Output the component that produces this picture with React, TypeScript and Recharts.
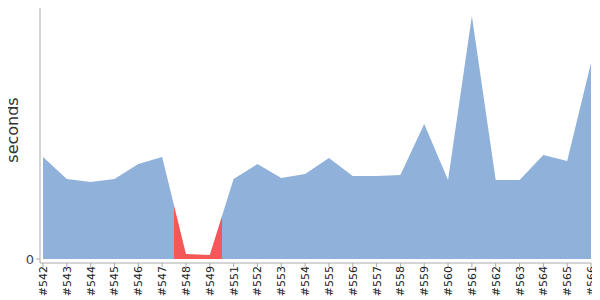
import {FC} from "react";
import {AreaChart, Area, XAxis, YAxis} from 'recharts';

const builds: string[] = [
    '#542', '#543', '#544', '#545', '#546', '#547', '#548', '#549', '#551', '#552', '#553', '#554', '#555',
    '#556', '#557', '#558', '#559', '#560', '#561', '#562', '#563', '#564', '#565', '#566'
];
const durations: number[] = [
    102, 80, 77, 80, 95, 102, 5, 4, 80, 95, 81, 85, 101,
    83, 83, 84, 135, 79, 243, 79, 79, 104, 98, 196
];
const statuses: string[] = [
    'ok', 'ok', 'ok', 'ok', 'ok', 'ok', 'failed', 'failed', 'ok', 'ok', 'ok', 'ok', 'ok',
    'ok', 'ok', 'ok', 'ok', 'ok', 'ok', 'ok', 'ok', 'ok', 'ok', 'ok'
];
const yTicks: number[] = [0];

const statusColor: Record<string, string> = {ok: '#8FB1DA', failed: '#F35757'};

const data = builds.map((name, i) => ({name, seconds: durations[i]}));

// colour changes half way between two builds
const gradientStops = () => {
    const last = statuses.length - 1;
    const stops: JSX.Element[] = [];
    statuses.forEach((s, i) => {
        const from = Math.max(0, (i - 0.5) / last);
        const to = Math.min(1, (i + 0.5) / last);
        stops.push(<stop key={i + 'a'} offset={from} stopColor={statusColor[s]}/>);
        stops.push(<stop key={i + 'b'} offset={to} stopColor={statusColor[s]}/>);
    });
    return stops;
};

const BuildTick = (props: any) => {
    const {x, y, payload} = props;
    const tx = x + 4;
    const ty = y - 3;
    return (
        <text x={tx} y={ty} transform={`rotate(-90 ${tx} ${ty})`} textAnchor="end"
              fontSize={11} fontFamily="DejaVu Sans" fill="#222">
            {payload.value}
        </text>
    );
};

const App: FC = () => {
    return (
        <div style={{margin: '-8px 0 0 -8px'}}>
            <AreaChart width={600} height={300} data={data} margin={{top: 4, right: 9, bottom: 0, left: 0}}>
                <defs>
                    <linearGradient id="status" x1="0" y1="0" x2="1" y2="0">
                        {gradientStops()}
                    </linearGradient>
                </defs>
                <XAxis dataKey="name" height={37} padding={{left: 3, right: 0}} interval={0}
                       stroke="#aaa" tickSize={4} tick={<BuildTick/>}/>
                <YAxis width={40} domain={[-4, 255]} ticks={yTicks} allowDataOverflow stroke="#aaa" tickSize={4}
                       tick={{fontSize: 13, fontFamily: 'DejaVu Sans', fill: '#444'}}
                       label={() => (
                           <text x={18} y={130} transform="rotate(-90 18 130)" textAnchor="middle"
                                 fontSize={16} fontFamily="DejaVu Sans" fill="#333">seconds</text>
                       )}/>
                <Area type="linear" dataKey="seconds" stroke="none" fill="url(#status)" fillOpacity={1}
                      isAnimationActive={false}/>
            </AreaChart>
        </div>
    );
};

export default App;
